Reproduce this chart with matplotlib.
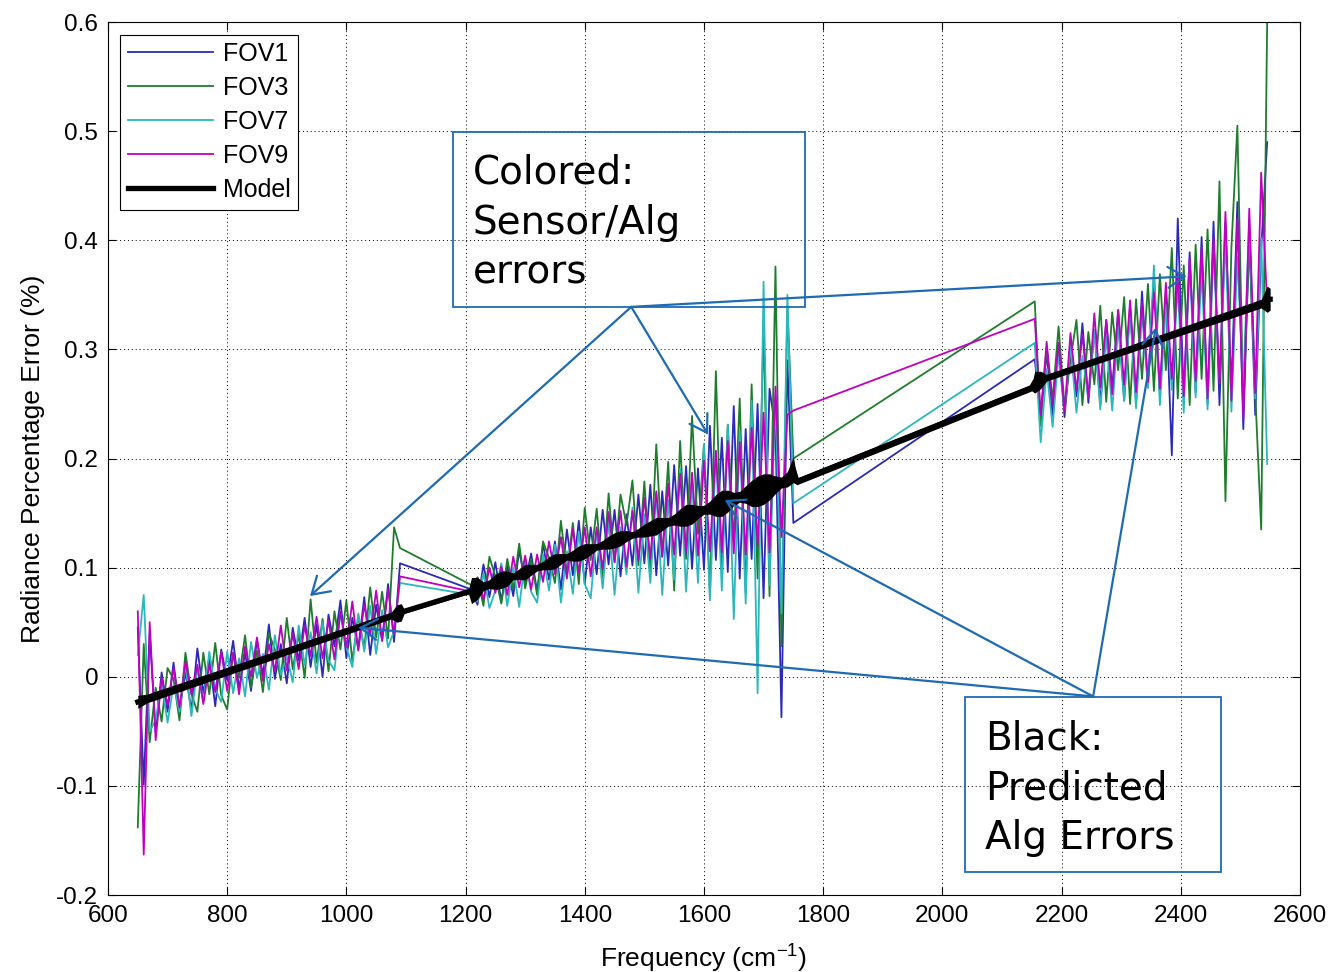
import numpy as np
import matplotlib
matplotlib.use('Agg')
import matplotlib.pyplot as plt
from matplotlib.patches import Rectangle

# frequency grids of the three spectral bands (cm-1)
freq1 = np.arange(650, 1091, 10)
freq2 = np.arange(1210, 1751, 10)
freq3 = np.arange(2155, 2546, 10)

# radiance percentage error, per FOV, per band
fov1_b1 = [0.045, -0.099, 0.040, -0.050, 0.004, -0.032, 0.013, -0.030, 0.004, -0.031, 0.026, -0.015, 0.017, -0.027, 0.025,
           -0.003, 0.033, -0.011, 0.022, -0.013, 0.034, 0.001, 0.048, -0.002, 0.030, -0.006, 0.045, 0.015, 0.054, 0.009,
           0.048, 0.000, 0.057, 0.028, 0.070, 0.017, 0.054, 0.026, 0.073, 0.020, 0.066, 0.033, 0.085, 0.032, 0.104]
fov3_b1 = [-0.138, 0.030, -0.060, -0.010, -0.041, 0.008, -0.002, -0.040, 0.022, -0.016, -0.032, 0.022, -0.016, 0.031, -0.017,
           -0.030, 0.022, -0.001, 0.038, -0.010, 0.024, -0.014, 0.040, 0.025, -0.003, 0.054, 0.007, 0.039, -0.001, 0.071,
           0.013, 0.053, 0.005, 0.060, 0.025, 0.070, 0.014, 0.056, 0.026, 0.082, 0.036, 0.078, 0.035, 0.137, 0.118]
fov7_b1 = [0.020, 0.075, -0.050, -0.040, -0.006, -0.042, -0.007, -0.032, 0.012, -0.036, 0.008, -0.023, 0.023, -0.011, -0.023,
           0.023, -0.015, 0.017, -0.018, 0.032, -0.001, 0.021, -0.012, 0.038, 0.002, 0.019, -0.005, 0.047, 0.011, 0.041,
           0.003, 0.050, 0.015, 0.006, 0.058, 0.027, 0.009, 0.058, 0.023, 0.065, 0.021, 0.061, 0.027, 0.042, 0.086]
fov9_b1 = [0.060, -0.163, 0.050, -0.058, -0.001, -0.026, 0.008, -0.028, 0.014, -0.016, 0.011, -0.025, 0.011, -0.014, 0.023,
           -0.013, 0.022, -0.016, 0.028, 0.000, 0.036, -0.004, 0.030, 0.005, 0.047, 0.006, 0.040, 0.007, 0.047, 0.019,
           0.055, 0.017, 0.052, 0.016, 0.060, 0.027, 0.069, 0.024, 0.066, 0.038, 0.079, 0.033, 0.080, 0.039, 0.092]

fov1_b2 = [0.080, 0.066, 0.103, 0.073, 0.105, 0.069, 0.102, 0.074, 0.116, 0.086, 0.113, 0.078, 0.122, 0.089, 0.124,
           0.080, 0.135, 0.093, 0.143, 0.085, 0.137, 0.094, 0.153, 0.103, 0.153, 0.092, 0.149, 0.102, 0.167, 0.104,
           0.176, 0.093, 0.170, 0.102, 0.194, 0.111, 0.193, 0.099, 0.191, 0.098, 0.230, 0.107, 0.219, 0.096, 0.248,
           0.090, 0.227, 0.108, 0.250, 0.072, 0.264, 0.226, -0.037, 0.290, 0.141]
fov3_b2 = [0.084, 0.091, 0.065, 0.110, 0.092, 0.067, 0.108, 0.080, 0.122, 0.081, 0.108, 0.075, 0.124, 0.109, 0.086,
           0.143, 0.095, 0.141, 0.085, 0.155, 0.107, 0.154, 0.091, 0.168, 0.105, 0.167, 0.139, 0.180, 0.102, 0.179,
           0.096, 0.213, 0.110, 0.197, 0.079, 0.216, 0.108, 0.239, 0.131, 0.213, 0.075, 0.280, 0.099, 0.231, 0.123,
           0.255, 0.077, 0.268, 0.090, 0.322, 0.074, 0.376, 0.028, 0.340, 0.200]
fov7_b2 = [0.075, 0.069, 0.095, 0.063, 0.079, 0.104, 0.065, 0.100, 0.064, 0.108, 0.078, 0.068, 0.112, 0.079, 0.121,
           0.068, 0.115, 0.076, 0.133, 0.085, 0.072, 0.134, 0.081, 0.143, 0.075, 0.137, 0.094, 0.155, 0.077, 0.149,
           0.086, 0.168, 0.075, 0.162, 0.089, 0.191, 0.078, 0.179, 0.086, 0.213, 0.070, 0.207, 0.079, 0.231, 0.053,
           0.225, 0.067, 0.253, -0.015, 0.362, 0.084, 0.256, 0.058, 0.350, 0.159]
fov9_b2 = [0.078, 0.091, 0.071, 0.100, 0.077, 0.101, 0.075, 0.110, 0.082, 0.111, 0.080, 0.112, 0.087, 0.124, 0.094,
           0.128, 0.090, 0.136, 0.095, 0.137, 0.092, 0.137, 0.099, 0.151, 0.105, 0.152, 0.101, 0.152, 0.107, 0.164,
           0.108, 0.170, 0.110, 0.177, 0.112, 0.186, 0.113, 0.187, 0.111, 0.198, 0.115, 0.207, 0.114, 0.216, 0.113,
           0.215, 0.112, 0.228, 0.120, 0.242, 0.114, 0.266, 0.128, 0.240, 0.244]

fov1_b3 = [0.291, 0.240, 0.297, 0.239, 0.306, 0.238, 0.300, 0.257, 0.324, 0.251, 0.318, 0.250, 0.327, 0.264, 0.336,
           0.253, 0.340, 0.251, 0.353, 0.265, 0.367, 0.259, 0.351, 0.203, 0.420, 0.257, 0.389, 0.261, 0.403, 0.250,
           0.417, 0.249, 0.416, 0.263, 0.435, 0.227, 0.409, 0.240, 0.392, 0.490]
fov3_b3 = [0.344, 0.230, 0.302, 0.254, 0.321, 0.248, 0.290, 0.327, 0.249, 0.316, 0.268, 0.340, 0.252, 0.334, 0.281,
           0.348, 0.250, 0.346, 0.273, 0.360, 0.262, 0.369, 0.281, 0.393, 0.255, 0.377, 0.249, 0.396, 0.273, 0.410,
           0.262, 0.454, 0.161, 0.393, 0.505, 0.247, 0.399, 0.260, 0.135, 0.600]
fov7_b3 = [0.306, 0.215, 0.282, 0.229, 0.296, 0.243, 0.305, 0.242, 0.294, 0.256, 0.318, 0.245, 0.312, 0.244, 0.321,
           0.253, 0.335, 0.246, 0.333, 0.265, 0.377, 0.249, 0.341, 0.263, 0.360, 0.242, 0.379, 0.256, 0.373, 0.245,
           0.392, 0.274, 0.401, 0.243, 0.385, 0.267, 0.419, 0.255, 0.402, 0.195]
fov9_b3 = [0.328, 0.240, 0.307, 0.249, 0.306, 0.243, 0.315, 0.262, 0.314, 0.256, 0.333, 0.265, 0.327, 0.259, 0.336,
           0.268, 0.345, 0.261, 0.343, 0.270, 0.352, 0.264, 0.361, 0.273, 0.370, 0.257, 0.384, 0.271, 0.393, 0.255,
           0.402, 0.269, 0.426, 0.253, 0.420, 0.237, 0.429, 0.260, 0.462, 0.340]

# predicted algorithm error (model) and its spread
model1_f = [650, 665, 1075, 1085, 1092, 1097, 1205]
model1_v = [-0.023, -0.020, 0.056, 0.058, 0.059, 0.060, 0.078]
model1_s = [0.006, 0.004, 0.003, 0.008, 0.008, 0.002, 0.002]
model2_v = [0.079, 0.081, 0.083, 0.085, 0.087, 0.089, 0.090, 0.092, 0.094, 0.096, 0.098, 0.100, 0.102, 0.104, 0.106,
            0.108, 0.110, 0.111, 0.113, 0.115, 0.117, 0.119, 0.121, 0.123, 0.125, 0.127, 0.129, 0.130, 0.132, 0.134,
            0.136, 0.138, 0.140, 0.142, 0.144, 0.146, 0.148, 0.149, 0.151, 0.153, 0.155, 0.157, 0.159, 0.161, 0.163,
            0.165, 0.167, 0.168, 0.170, 0.172, 0.174, 0.176, 0.178, 0.181, 0.190]
model2_s = [0.012, 0.010, 0.004, 0.004, 0.007, 0.008, 0.007, 0.003, 0.005, 0.007, 0.005, 0.003, 0.004, 0.006, 0.007,
            0.005, 0.003, 0.005, 0.007, 0.007, 0.005, 0.003, 0.004, 0.006, 0.007, 0.007, 0.005, 0.003, 0.004, 0.006,
            0.007, 0.008, 0.006, 0.004, 0.005, 0.008, 0.010, 0.009, 0.006, 0.004, 0.006, 0.010, 0.012, 0.010, 0.006,
            0.005, 0.008, 0.012, 0.014, 0.014, 0.012, 0.008, 0.005, 0.007, 0.012]
model3_f = [1756, 2150, 2155, 2165, 2175, 2535, 2545, 2550]
model3_v = [0.179, 0.265, 0.270, 0.272, 0.274, 0.342, 0.346, 0.346]
model3_s = [0.003, 0.003, 0.010, 0.008, 0.003, 0.004, 0.012, 0.010]

series_names = ['FOV1', 'FOV3', 'FOV7', 'FOV9']
series_colors = ['#2a2ab8', '#1e7d2c', '#2ab8bc', '#c000c0']

x_ticks = [600, 800, 1000, 1200, 1400, 1600, 1800, 2000, 2200, 2400, 2600]
y_ticks = [-0.2, -0.1, 0, 0.1, 0.2, 0.3, 0.4, 0.5, 0.6]
y_tick_labels = ['-0.2', '-0.1', '0', '0.1', '0.2', '0.3', '0.4', '0.5', '0.6']

box_color = '#1e6bb4'

plt.rcParams['font.family'] = ['Liberation Sans', 'DejaVu Sans']

fig = plt.figure(figsize=(13.33, 9.72), dpi=100)
ax = fig.add_axes([0.081, 0.0792, 0.8942, 0.8981])

freq = np.concatenate([freq1, freq2, freq3])
bands = [(fov1_b1, fov1_b2, fov1_b3), (fov3_b1, fov3_b2, fov3_b3),
         (fov7_b1, fov7_b2, fov7_b3), (fov9_b1, fov9_b2, fov9_b3)]
for name, color, (b1, b2, b3) in zip(series_names, series_colors, bands):
    ax.plot(freq, np.concatenate([b1, b2, b3]), color=color, lw=1.3, label=name)

mf = np.concatenate([model1_f, freq2, model3_f])
mv = np.concatenate([model1_v, model2_v, model3_v])
ms = np.concatenate([model1_s, model2_s, model3_s])
ax.fill_between(mf, mv - ms, mv + ms, color='k', lw=0, zorder=3)
ax.plot(mf, mv, color='k', lw=3.8, label='Model', zorder=3)

ax.set_xlim(600, 2600)
ax.set_ylim(-0.2, 0.6)
ax.set_xticks(x_ticks)
ax.set_yticks(y_ticks)
ax.set_yticklabels(y_tick_labels)
ax.tick_params(direction='in', length=6, width=0.8, top=True, right=True, labelsize=17.5, pad=7)
ax.grid(True, color='k', linestyle=(0, (1, 3)), lw=0.7)
for sp in ax.spines.values():
    sp.set_linewidth(0.8)

ax.set_xlabel('Frequency (cm$^{\\mathregular{-1}}$)', fontsize=19, labelpad=10)
ax.set_ylabel('Radiance Percentage Error (%)', fontsize=19, labelpad=8)

leg = ax.legend(loc='upper left', fontsize=18, fancybox=False, edgecolor='k', framealpha=1,
                borderaxespad=0.5, handlelength=3.4, handletextpad=0.4, labelspacing=0.4, borderpad=0.3)
leg.get_frame().set_linewidth(0.8)
leg.set_zorder(7)

# annotation boxes
ax.add_patch(Rectangle((1179, 0.339), 590, 0.160, fill=False, ec=box_color, lw=1.3, zorder=5))
ax.text(1212, 0.4795, 'Colored:\nSensor/Alg\nerrors', fontsize=28, family='DejaVu Sans',
        va='top', ha='left', linespacing=1.4, zorder=6)
ax.add_patch(Rectangle((2038, -0.1787), 430, 0.160, fill=False, ec=box_color, lw=1.3, zorder=5))
ax.text(2071, -0.039, 'Black:\nPredicted\nAlg Errors', fontsize=28, family='DejaVu Sans',
        va='top', ha='left', linespacing=1.4, zorder=6)

arrow = dict(arrowstyle='->,head_length=1.2,head_width=0.75', color=box_color, lw=1.6,
             shrinkA=0, shrinkB=0)
for tip in [(939, 0.074), (1607, 0.222), (2410, 0.367)]:
    ax.annotate('', xy=tip, xytext=(1478, 0.339), arrowprops=arrow, zorder=6)
for tip in [(1020, 0.045), (1635, 0.162), (2358, 0.320)]:
    ax.annotate('', xy=tip, xytext=(2253, -0.018), arrowprops=arrow, zorder=6)

fig.savefig('out.png', dpi=100)
